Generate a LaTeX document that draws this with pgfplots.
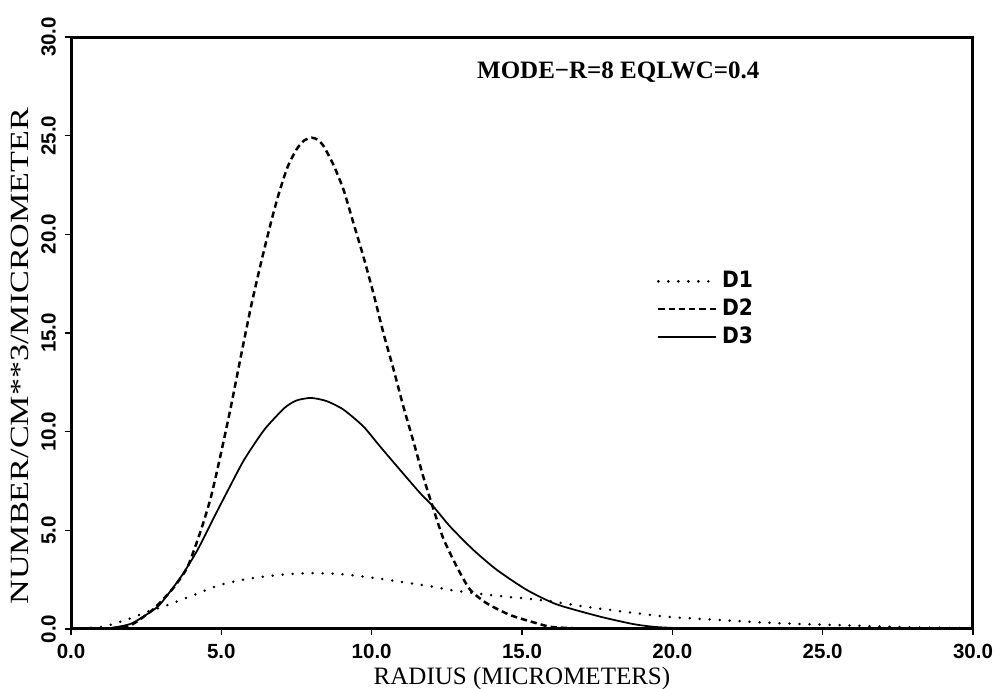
\documentclass[border=0pt]{standalone}
\usepackage{fontspec}
\setmainfont{Liberation Serif}
\newfontfamily\tickfont{Liberation Sans}
\newfontfamily\legfont{DejaVu Sans Condensed}
\usepackage{pgfplots}
\pgfplotsset{compat=1.18}
\pgfplotstableread{
x y
0 0
1.0 0.0
1.44 0.05
2.0 0.2
2.66 0.9
3.0 1.4
3.44 2.15
3.88 3.16
4.32 5.0
4.66 6.72
4.99 8.92
5.32 11.28
5.65 13.82
5.99 16.36
6.32 18.56
6.65 20.6
6.9 22.0
7.2 23.4
7.5 24.3
7.75 24.75
8.0 24.9
8.2 24.8
8.39 24.5
8.72 23.55
9.06 22.28
9.39 20.59
9.72 18.9
10.06 17.0
10.39 15.0
10.72 13.2
11.05 11.3
11.39 9.5
11.72 7.7
12.05 6.1
12.38 4.6
12.83 3.16
13.27 2.0
13.83 1.3
14.6 0.71
15.49 0.29
16.0 0.1
17 0.02
18 0
30 0
}\dtwo
\pgfplotstableread{
x y
0 0
1.0 0.01
1.33 0.05
2.0 0.27
2.66 0.88
2.99 1.3
3.66 2.65
4.21 4.01
4.77 5.70
5.21 7.0
5.76 8.58
6.43 10.1
7.1 11.2
7.5 11.58
7.98 11.71
8.5 11.55
9.06 11.12
9.72 10.27
10.28 9.25
10.94 8.07
11.61 6.89
12.05 6.21
12.61 5.19
13.38 4.01
14.16 3.0
15.16 1.98
16.15 1.25
17.59 0.63
18.7 0.25
19.47 0.1
20.5 0.03
22 0
30 0
}\dthree
\pgfplotstableread{
x y
0 0
1.0 0.1
1.5 0.3
2.0 0.55
2.5 0.85
3.0 1.1
3.66 1.47
4.3 1.85
4.88 2.2
5.5 2.43
6.0 2.57
7.0 2.75
8.0 2.83
9.0 2.78
9.6 2.68
10.5 2.5
11.28 2.32
12.0 2.15
12.6 1.98
13.5 1.8
14.6 1.62
15.5 1.49
16.15 1.36
17.15 1.12
18.7 0.82
20.0 0.6
21.75 0.44
23.0 0.33
24.35 0.25
25.9 0.18
27.0 0.12
28.5 0.07
30.0 0.04
}\done
\begin{document}
\begin{tikzpicture}
\begin{axis}[
  scale only axis, width=360.8pt, height=236.8pt,
  xmin=0, xmax=30, ymin=0, ymax=30,
  xtick={0,5,...,30}, ytick={0,5,...,30},
  tick align=outside, tick pos=left, major tick length=2.5pt,
  axis line style={line width=1.2pt},
  every tick/.style={black, line width=0.6pt},
  /pgf/number format/.cd, fixed, fixed zerofill, precision=1, assume math mode=true,
  /pgfplots/.cd,
  xticklabel style={font=\tickfont\bfseries\fontsize{8.2}{9}\selectfont},
  yticklabel style={font=\tickfont\bfseries\fontsize{8.2}{9}\selectfont, rotate=90, anchor=south},
  xlabel={\fontsize{10}{12}\selectfont RADIUS (MICROMETERS)},
  xlabel style={at={(axis description cs:0.5,-0.083)}, anchor=center},
  ylabel={\scalebox{1.3}[1]{\fontsize{10.5}{12}\selectfont NUMBER/CM**3/MICROMETER}},
  ylabel style={at={(axis description cs:-0.0565,0.461)}, anchor=center, rotate=0},
  legend style={draw=none, fill=none, at={(axis cs:21.17,16.2)}, anchor=center,
    font=\legfont\bfseries\fontsize{9}{10}\selectfont, row sep=-1pt},
  legend cell align=left,
  legend image code/.code={\draw[#1] (0pt,0pt) -- (19pt,0pt); \path (0pt,0pt) -- (23pt,0pt);},
]
\addplot[black, line width=1.1pt, line cap=round, dash pattern=on 0pt off 4pt, smooth, tension=0.4] table {\done};
\addlegendentry{D1}
\addplot[black, line width=1pt, dash pattern=on 2.5pt off 1.6pt, smooth, tension=0.4] table {\dtwo};
\addlegendentry{D2}
\addplot[black, line width=0.7pt, smooth, tension=0.4] table {\dthree};
\addlegendentry{D3}
\node[font=\bfseries\fontsize{10}{12}\selectfont] at (axis cs:18.2,28.2) {MODE−R=8 EQLWC=0.4};
\end{axis}
\pgfresetboundingbox
\path (current axis.south west) ++(-28.4pt,-24pt) coordinate (bl);
\path (current axis.north east) ++(12.4pt,14.8pt) coordinate (tr);
\useasboundingbox (bl) rectangle (tr);
\end{tikzpicture}
\end{document}
